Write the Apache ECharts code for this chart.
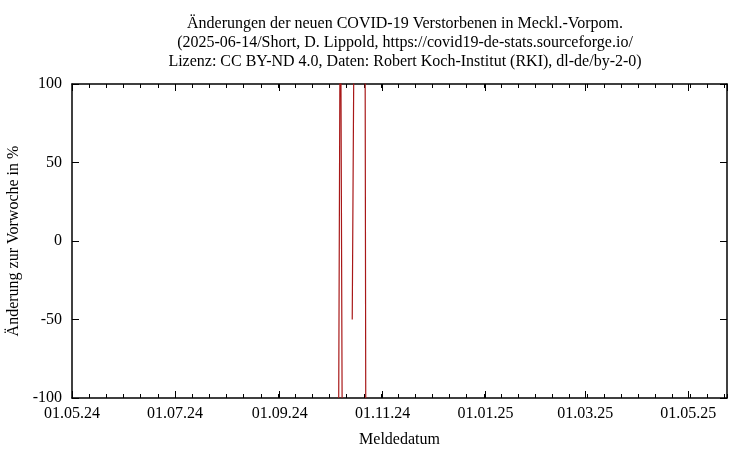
<!DOCTYPE html>
<html>
<head>
<meta charset="utf-8">
<script src="https://cdn.jsdelivr.net/npm/echarts@6/dist/echarts.min.js"></script>
<style>html,body{margin:0;padding:0;background:#fff}#c{width:750px;height:450px}</style>
</head>
<body>
<div id="c"></div>
<script>
const titleLines = [
  'Änderungen der neuen COVID-19 Verstorbenen in Meckl.-Vorpom.',
  '(2025-06-14/Short, D. Lippold, https://covid19-de-stats.sourceforge.io/',
  'Lizenz: CC BY-ND 4.0, Daten: Robert Koch-Institut (RKI), dl-de/by-2-0)'
];
const xAxisName = 'Meldedatum';
const yAxisName = 'Änderung zur Vorwoche in %';
const xMin = '2024-05-01';
const xMax = '2025-05-24';
const yTicks = [-100, -50, 0, 50, 100];
const dates = ['2024-10-05','2024-10-06','2024-10-07','2024-10-08','2024-10-09',
               '2024-10-13','2024-10-14','2024-10-15','2024-10-16',
               '2024-10-20','2024-10-21','2024-10-22','2024-10-23'];
const values = [null, -100, 200, -100, null,
                null, -50, 125, null,
                null, 500, -100, null];
const minorTickDays = 61 / 6;

const FONT = 'Liberation Serif';
const DAY = 86400000;
const seriesData = dates.map((d, i) => [d, values[i] === null ? '-' : values[i]]);
const pad = n => (n < 10 ? '0' : '') + n;
const fmt = v => { const d = new Date(v); return pad(d.getDate()) + '.' + pad(d.getMonth() + 1) + '.' + pad(d.getFullYear() % 100); };
const spanDays = Math.round((new Date(xMax) - new Date(xMin)) / DAY);

const xCommon = {
  type: 'time', min: xMin, max: xMax,
  minInterval: 58 * DAY, maxInterval: 63 * DAY,
  axisLine: { show: true, onZero: false, lineStyle: { color: '#000', width: 1.5 } },
  axisTick: { show: true, inside: true, length: 7, lineStyle: { color: '#000', width: 1 } },
  minorTick: { show: false },
  splitLine: { show: false }, minorSplitLine: { show: false }
};
const xMinor = {
  type: 'value', min: 0, max: spanDays, interval: minorTickDays,
  axisLine: { show: false, onZero: false },
  axisTick: { show: true, inside: true, length: 4, lineStyle: { color: '#000', width: 1 } },
  axisLabel: { show: false }, splitLine: { show: false }
};
const yCommon = {
  type: 'value', min: yTicks[0], max: yTicks[yTicks.length - 1], interval: 50,
  axisLine: { show: true, onZero: false, lineStyle: { color: '#000', width: 1.5 } },
  axisTick: { show: true, inside: true, length: 7, lineStyle: { color: '#000', width: 1 } },
  splitLine: { show: false }
};

const chart = echarts.init(document.getElementById('c'), null, { renderer: 'canvas' });
chart.setOption({
  animation: false,
  backgroundColor: '#fff',
  textStyle: { fontFamily: FONT },
  title: {
    text: titleLines.join('\n'),
    left: 400, top: 9, textAlign: 'center',
    textStyle: { fontFamily: FONT, fontSize: 16, fontWeight: 'normal', color: '#000', lineHeight: 19 }
  },
  grid: { left: 72, right: 23, top: 84, bottom: 52, containLabel: false, outerBoundsMode: 'none' },
  xAxis: [
    Object.assign({}, xCommon, {
      position: 'bottom',
      name: xAxisName, nameLocation: 'middle', nameGap: 34,
      nameTextStyle: { fontFamily: FONT, fontSize: 16, color: '#000' },
      axisLabel: { show: true, formatter: fmt, color: '#000', fontFamily: FONT, fontSize: 16, margin: 8, showMaxLabel: false, hideOverlap: false }
    }),
    Object.assign({}, xCommon, { position: 'top', axisLabel: { show: false } }),
    Object.assign({}, xMinor, { position: 'bottom' }),
    Object.assign({}, xMinor, { position: 'top' })
  ],
  yAxis: [
    Object.assign({}, yCommon, {
      position: 'left',
      name: yAxisName, nameLocation: 'middle', nameGap: 44, nameRotate: 90,
      nameTextStyle: { fontFamily: FONT, fontSize: 16, color: '#000' },
      axisLabel: { show: true, color: '#000', fontFamily: FONT, fontSize: 16, margin: 10 }
    }),
    Object.assign({}, yCommon, { position: 'right', axisLabel: { show: false } })
  ],
  series: [{
    type: 'line', xAxisIndex: 0, yAxisIndex: 0,
    data: seriesData, showSymbol: false, symbol: 'none', connectNulls: false, clip: true,
    lineStyle: { color: '#a81818', width: 1.2 }
  }]
});
</script>
</body>
</html>
